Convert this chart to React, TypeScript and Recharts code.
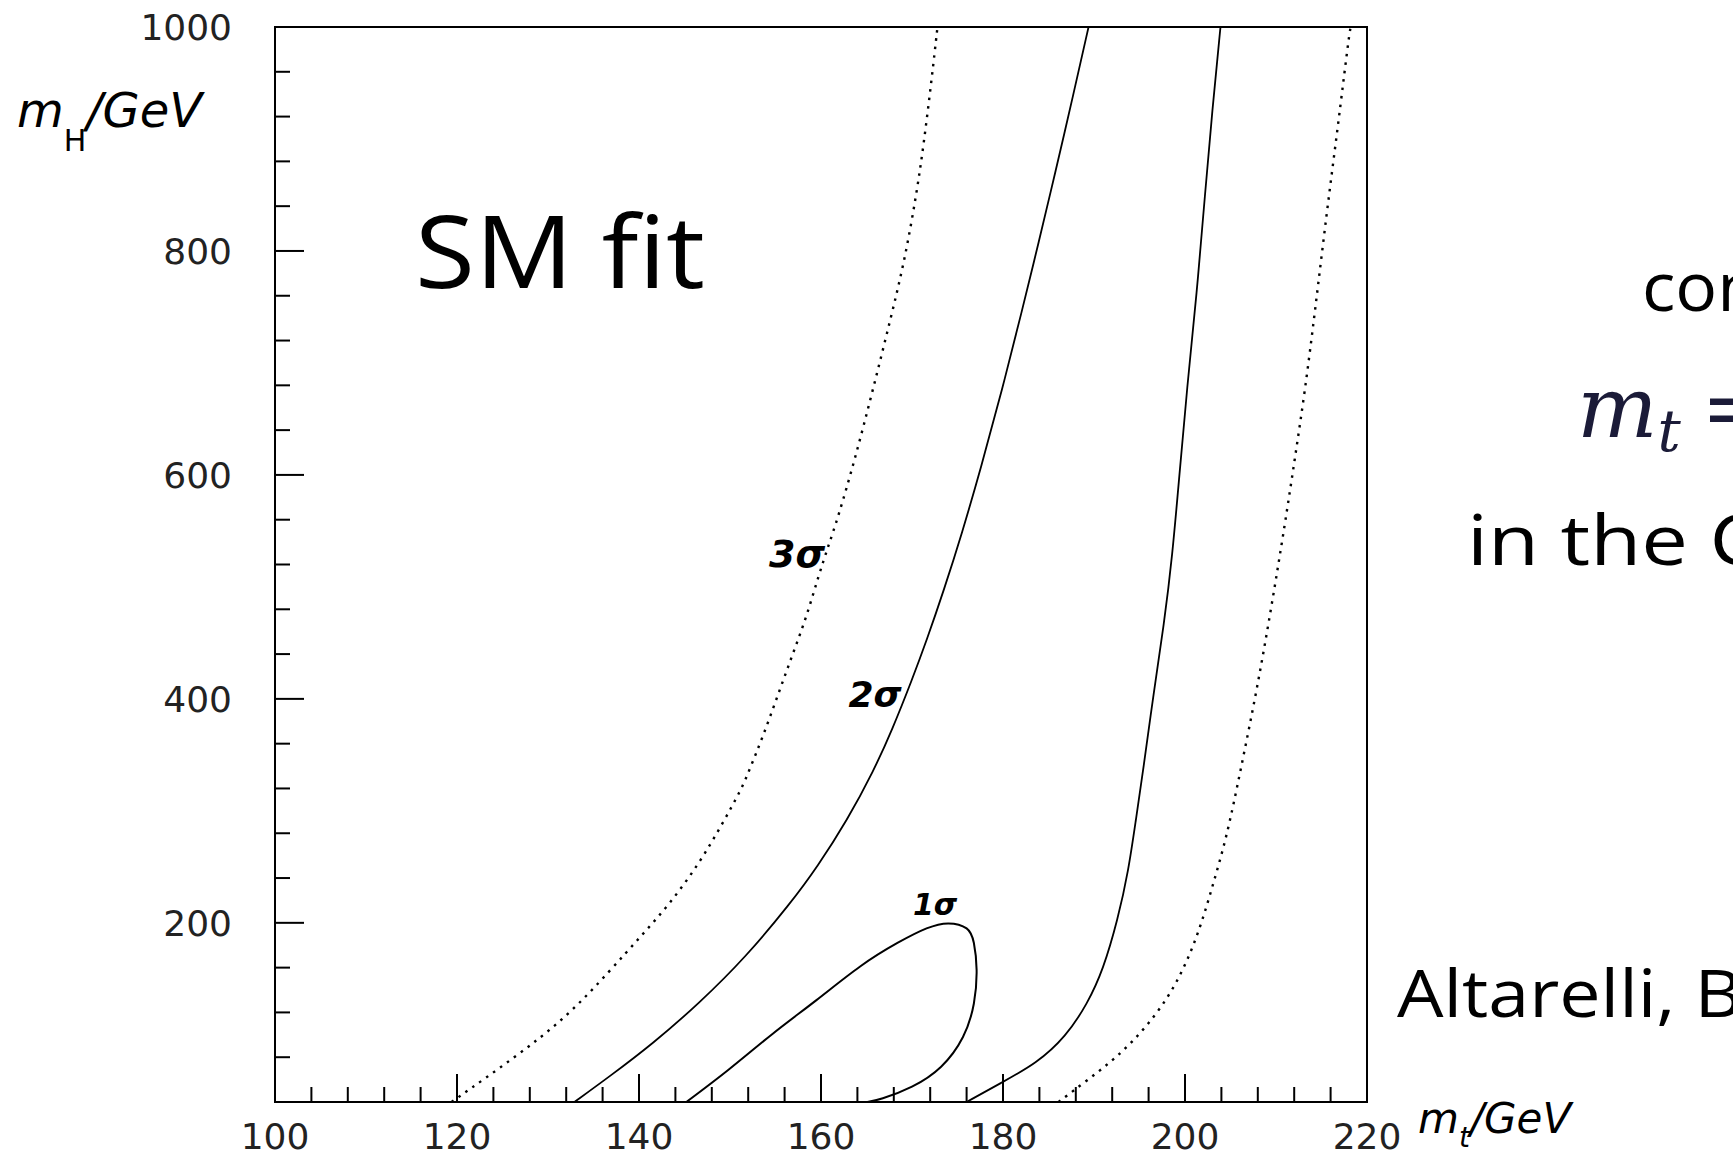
import React from "react";
import { ComposedChart, Line, XAxis, YAxis, ReferenceArea } from "recharts";

// ---- axis ticks ----
const xTicks = [100, 104, 108, 112, 116, 120, 124, 128, 132, 136, 140, 144, 148, 152, 156, 160, 164, 168, 172, 176, 180, 184, 188, 192, 196, 200, 204, 208, 212, 216, 220];
const xMajorTicks = [100, 120, 140, 160, 180, 200, 220];
const yTicks = [40, 80, 120, 160, 200, 240, 280, 320, 360, 400, 440, 480, 520, 560, 600, 640, 680, 720, 760, 800, 840, 880, 920, 960, 1000];
const yMajorTicks = [200, 400, 600, 800, 1000];

// ---- contour curves (m_t / GeV, m_H / GeV) ----
const sigma3LeftMt = [119.4, 126.4, 132.1, 136.9, 140.2, 143.4, 146.6, 149.0, 151.3, 152.1, 153.6, 155.2, 156.8, 158.4, 159.7, 160.9, 161.8, 163.8, 165.7, 167.7, 169.2, 170.5, 171.3, 172.2, 172.8];
const sigma3LeftMh = [40, 80, 116, 158, 188, 217, 253, 286, 320, 336, 366, 402, 438, 473, 509, 539, 560, 616, 676, 741, 792, 851, 896, 956, 1000];

const sigma2LeftMt = [132.9, 136.8, 141.5, 146.6, 151.8, 156.6, 159.6, 162.9, 165.8, 167.8, 170.0, 171.6, 173.5, 175.5, 177.6, 179.9, 182.1, 183.9, 185.8, 187.6, 189.4];
const sigma2LeftMh = [40, 63, 92, 128, 170, 217, 250, 292, 336, 372, 417, 452, 497, 548, 607, 676, 747, 807, 872, 935, 1000];

const sigma1Mt = [145.2, 149.8, 154.7, 159.5, 164.3, 168.4, 171.6, 174.0, 176.0, 176.8, 177.1, 176.8, 175.6, 173.2, 170.0, 166.8, 165.1];
const sigma1Mh = [40, 68.6, 101, 131, 161, 182, 195, 199.5, 195, 182, 158, 128, 98, 71.5, 53.7, 43.3, 40];

const sigma2RightMt = [176.0, 179.7, 183.7, 186.9, 189.3, 191.0, 192.6, 193.8, 194.6, 195.4, 196.6, 197.7, 198.6, 199.4, 200.2, 201.3, 202.2, 203.0, 203.9];
const sigma2RightMh = [40, 56.7, 74.5, 98.3, 128, 158, 202.5, 247, 292, 336, 408, 467, 527, 601, 676, 762, 851, 926, 1000];

const sigma3RightMt = [186.1, 189.3, 192.6, 195.8, 199.0, 201.4, 203.0, 204.6, 206.1, 207.9, 209.5, 211.0, 212.1, 213.2, 214.3, 215.6, 216.8, 218.0, 218.2];
const sigma3RightMh = [40, 59.6, 80.5, 107, 143, 188, 232, 277, 336, 408, 482, 557, 616, 676, 747, 836, 911, 991, 1000];

const toPoints = (mt: number[], mh: number[]) => mt.map((v, i) => ({ mt: v, mH: mh[i] }));

const sigma3Left = toPoints(sigma3LeftMt, sigma3LeftMh);
const sigma2Left = toPoints(sigma2LeftMt, sigma2LeftMh);
const sigma1 = toPoints(sigma1Mt, sigma1Mh);
const sigma2Right = toPoints(sigma2RightMt, sigma2RightMh);
const sigma3Right = toPoints(sigma3RightMt, sigma3RightMh);

const W = 1733;
const H = 1158;
const TICK_MARGIN = 10;
const tickFont = "DejaVu Sans";

const XTick = (props: any) => {
  const { x, y, payload } = props;
  const axisY = y - TICK_MARGIN;
  const major = xMajorTicks.includes(payload.value);
  return (
    <g>
      <line x1={x} y1={axisY} x2={x} y2={axisY - (major ? 28 : 15)} stroke="#000" strokeWidth={2} />
      {major && (
        <text x={x} y={axisY + 47} textAnchor="middle" fontFamily={tickFont} fontSize={36} fill="#222">
          {payload.value}
        </text>
      )}
    </g>
  );
};

const YTick = (props: any) => {
  const { x, y, payload } = props;
  const plotLeft = x + TICK_MARGIN;
  const major = yMajorTicks.includes(payload.value);
  return (
    <g>
      <line x1={plotLeft} y1={y} x2={plotLeft + (major ? 29 : 15)} y2={y} stroke="#000" strokeWidth={2} />
      {major && (
        <text x={plotLeft - 43} y={y + 13} textAnchor="end" fontFamily={tickFont} fontSize={36} fill="#222">
          {payload.value}
        </text>
      )}
    </g>
  );
};

const handFont = "'Open Sans', 'DejaVu Sans', sans-serif";
const dotted = "2.5 6";

export default function App() {
  return (
    <div style={{ position: "relative", width: W, height: H, background: "#fff", overflow: "hidden" }}>
      <style>{"body{margin:0;overflow:hidden;background:#fff}"}</style>
      <ComposedChart width={W} height={H} margin={{ top: 27, right: 366, bottom: 0, left: 0 }}>
        <XAxis
          dataKey="mt"
          type="number"
          domain={[100, 220]}
          ticks={xTicks}
          interval={0}
          allowDataOverflow
          axisLine={false}
          tickLine={false}
          tickSize={0}
          tickMargin={TICK_MARGIN}
          height={56}
          tick={XTick}
        />
        <YAxis
          dataKey="mH"
          type="number"
          domain={[40, 1000]}
          ticks={yTicks}
          interval={0}
          allowDataOverflow
          axisLine={false}
          tickLine={false}
          tickSize={0}
          tickMargin={TICK_MARGIN}
          width={275}
          tick={YTick}
        />
        <ReferenceArea x1={100} x2={220} y1={40} y2={1000} fill="none" stroke="#000" strokeWidth={2} ifOverflow="visible" />
        <Line data={sigma3Left} dataKey="mH" type="basis" stroke="#000" strokeWidth={2.4} strokeDasharray={dotted} dot={false} activeDot={false} isAnimationActive={false} />
        <Line data={sigma2Left} dataKey="mH" type="basis" stroke="#000" strokeWidth={1.8} dot={false} activeDot={false} isAnimationActive={false} />
        <Line data={sigma1} dataKey="mH" type="natural" stroke="#000" strokeWidth={2} dot={false} activeDot={false} isAnimationActive={false} />
        <Line data={sigma2Right} dataKey="mH" type="basis" stroke="#000" strokeWidth={1.8} dot={false} activeDot={false} isAnimationActive={false} />
        <Line data={sigma3Right} dataKey="mH" type="basis" stroke="#000" strokeWidth={2.4} strokeDasharray={dotted} dot={false} activeDot={false} isAnimationActive={false} />
      </ComposedChart>
      <svg width={W} height={H} style={{ position: "absolute", left: 0, top: 0, pointerEvents: "none", overflow: "hidden" }}>
        {/* axis titles */}
        <text x={17} y={127} fontFamily="DejaVu Sans" fontStyle="italic" fontSize={48} fill="#000">
          m
          <tspan fontSize={30} dy={24} fontStyle="normal">H</tspan>
          <tspan dy={-24}>/GeV</tspan>
        </text>
        <text x={1418} y={1133} fontFamily="DejaVu Sans" fontStyle="italic" fontSize={42} fill="#000">
          m
          <tspan fontSize={28} dy={14}>t</tspan>
          <tspan dy={-14}>/GeV</tspan>
        </text>
        {/* contour labels */}
        <text x={797} y={567} textAnchor="middle" fontFamily="DejaVu Sans" fontWeight="bold" fontStyle="italic" fontSize={38} fill="#000">3σ</text>
        <text x={875} y={707} textAnchor="middle" fontFamily="DejaVu Sans" fontWeight="bold" fontStyle="italic" fontSize={36} fill="#000">2σ</text>
        <text x={935} y={915} textAnchor="middle" fontFamily="DejaVu Sans" fontWeight="bold" fontStyle="italic" fontSize={30} fill="#000">1σ</text>
        {/* slide texts */}
        <text x={415} y={288} fontFamily={handFont} fontSize={100} textLength={290} lengthAdjust="spacingAndGlyphs" fill="#000">SM fit</text>
        <text x={1642} y={311} fontFamily={handFont} fontSize={68} textLength={118} lengthAdjust="spacingAndGlyphs" fill="#000">con</text>
        <text x={1577} y={437} fontFamily="'DejaVu Serif', serif" fontStyle="italic" fontSize={85} fill="#1b1b38">
          m
          <tspan fontSize={58} dy={14}>t</tspan>
          <tspan dy={-14} dx={20} fontStyle="normal">=</tspan>
        </text>
        <text x={1467} y={565} fontFamily={handFont} fontSize={70} textLength={295} lengthAdjust="spacingAndGlyphs" fill="#000">in the C</text>
        <text x={1397} y={1017} fontFamily={handFont} fontSize={66} textLength={345} lengthAdjust="spacingAndGlyphs" fill="#000">Altarelli, B</text>
      </svg>
    </div>
  );
}
